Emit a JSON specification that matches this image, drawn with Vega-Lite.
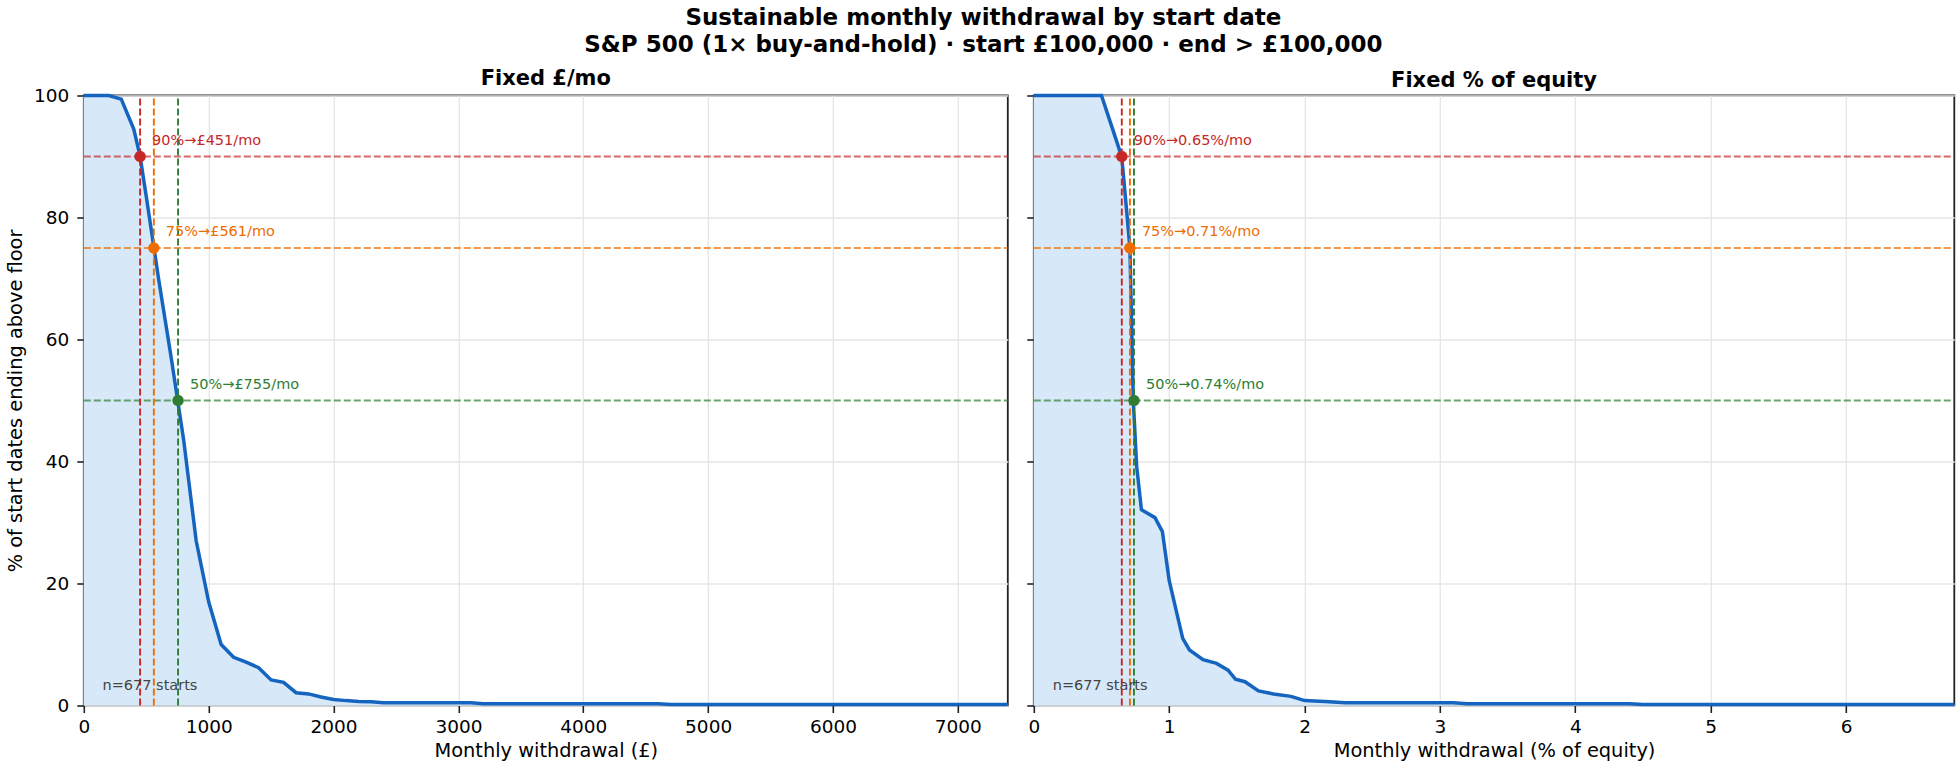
{
  "$schema": "https://vega.github.io/schema/vega-lite/v6.json",
  "padding": {"left": 3.8, "top": 6.5, "right": 5, "bottom": 5},
  "background": "white",
  "title": {
    "text": "Sustainable monthly withdrawal by start date",
    "subtitle": "S&P 500 (1× buy-and-hold) · start £100,000 · end > £100,000",
    "fontSize": 23,
    "subtitleFontSize": 23,
    "subtitleFontWeight": "bold",
    "subtitleColor": "#000",
    "subtitleFont": "DejaVu Sans",
    "subtitlePadding": 4,
    "anchor": "middle",
    "offset": 9.5
  },
  "datasets": {
    "curveA": [
      {"x": 0, "y": 100}, {"x": 100, "y": 100}, {"x": 200, "y": 100}, {"x": 300, "y": 99.4},
      {"x": 400, "y": 94.5}, {"x": 450, "y": 90.1}, {"x": 500, "y": 83.5}, {"x": 600, "y": 69.8},
      {"x": 700, "y": 57.0}, {"x": 800, "y": 43.5}, {"x": 900, "y": 27.0}, {"x": 1000, "y": 17.0},
      {"x": 1100, "y": 10.0}, {"x": 1200, "y": 7.9}, {"x": 1300, "y": 7.1}, {"x": 1400, "y": 6.2},
      {"x": 1500, "y": 4.2}, {"x": 1600, "y": 3.8}, {"x": 1700, "y": 2.1}, {"x": 1800, "y": 1.9},
      {"x": 1900, "y": 1.4}, {"x": 2000, "y": 1.0}, {"x": 2100, "y": 0.8}, {"x": 2200, "y": 0.65},
      {"x": 2300, "y": 0.6}, {"x": 2400, "y": 0.45}, {"x": 3100, "y": 0.45}, {"x": 3200, "y": 0.3},
      {"x": 4600, "y": 0.3}, {"x": 4700, "y": 0.15}, {"x": 7400, "y": 0.15}
    ],
    "curveB": [
      {"x": 0, "y": 100}, {"x": 0.5, "y": 100}, {"x": 0.6, "y": 93.3}, {"x": 0.65, "y": 89.9},
      {"x": 0.685, "y": 81.3}, {"x": 0.71, "y": 75}, {"x": 0.735, "y": 50}, {"x": 0.76, "y": 39.2},
      {"x": 0.795, "y": 32.1}, {"x": 0.895, "y": 30.8}, {"x": 0.95, "y": 28.5}, {"x": 1.0, "y": 20.5},
      {"x": 1.1, "y": 11.0}, {"x": 1.15, "y": 9.1}, {"x": 1.25, "y": 7.5}, {"x": 1.35, "y": 6.9},
      {"x": 1.435, "y": 5.8}, {"x": 1.49, "y": 4.3}, {"x": 1.56, "y": 3.9}, {"x": 1.66, "y": 2.4},
      {"x": 1.77, "y": 1.9}, {"x": 1.9, "y": 1.5}, {"x": 2.0, "y": 0.8}, {"x": 2.15, "y": 0.65},
      {"x": 2.3, "y": 0.45}, {"x": 3.1, "y": 0.45}, {"x": 3.2, "y": 0.3}, {"x": 4.4, "y": 0.3},
      {"x": 4.5, "y": 0.15}, {"x": 6.8, "y": 0.15}
    ],
    "marksA": [
      {"x": 451, "y": 90, "level": "90%", "label": "90%→£451/mo"},
      {"x": 561, "y": 75, "level": "75%", "label": "75%→£561/mo"},
      {"x": 755, "y": 50, "level": "50%", "label": "50%→£755/mo"}
    ],
    "marksB": [
      {"x": 0.65, "y": 90, "level": "90%", "label": "90%→0.65%/mo"},
      {"x": 0.71, "y": 75, "level": "75%", "label": "75%→0.71%/mo"},
      {"x": 0.74, "y": 50, "level": "50%", "label": "50%→0.74%/mo"}
    ],
    "noteA": [{"x": 150, "y": 3.2, "t": "n=677 starts"}],
    "noteB": [{"x": 0.14, "y": 3.2, "t": "n=677 starts"}],
    "frame": [{"k": "frame"}]
  },
  "spacing": 9,
  "hconcat": [
    {
      "width": 924,
      "height": 610,
      "title": {"text": "Fixed £/mo"},
      "encoding": {
        "x": {"field": "x", "type": "quantitative", "scale": {"domain": [0, 7400], "nice": false, "zero": false},
              "axis": {"values": [0, 1000, 2000, 3000, 4000, 5000, 6000, 7000], "format": "d", "title": "Monthly withdrawal (£)"}},
        "y": {"field": "y", "type": "quantitative", "scale": {"domain": [0, 100], "nice": false},
              "axis": {"values": [0, 20, 40, 60, 80, 100], "format": "d", "title": "% of start dates ending above floor"}}
      },
      "layer": [
        {"data": {"name": "curveA"}, "mark": {"type": "area", "color": "#d7e9f9", "opacity": 1}},
        {"data": {"name": "curveA"}, "mark": {"type": "line", "color": "#1565c0", "strokeWidth": 3.5}},
        {"data": {"name": "marksA"}, "mark": {"type": "rule", "strokeDash": [7, 3], "strokeWidth": 1.9, "opacity": 0.7},
         "encoding": {"x": {"datum": 0}, "x2": {"datum": 7400},
                      "color": {"field": "level", "type": "nominal", "scale": {"domain": ["90%", "75%", "50%"], "range": ["#c62828", "#ef6c00", "#2e7d32"]}, "legend": null}}},
        {"data": {"name": "marksA"}, "mark": {"type": "rule", "strokeDash": [7, 3], "strokeWidth": 1.9},
         "encoding": {"y": {"datum": 0}, "y2": {"datum": 100},
                      "color": {"field": "level", "type": "nominal", "scale": {"domain": ["90%", "75%", "50%"], "range": ["#c62828", "#ef6c00", "#2e7d32"]}, "legend": null}}},
        {"data": {"name": "marksA"}, "mark": {"type": "point", "filled": true, "size": 130, "opacity": 1},
         "encoding": {"color": {"field": "level", "type": "nominal", "scale": {"domain": ["90%", "75%", "50%"], "range": ["#c62828", "#ef6c00", "#2e7d32"]}, "legend": null}}},
        {"data": {"name": "marksA"}, "mark": {"type": "text", "align": "left", "baseline": "middle", "dx": 12, "dy": -16, "fontSize": 14.5, "font": "DejaVu Sans"},
         "encoding": {"text": {"field": "label"},
                      "color": {"field": "level", "type": "nominal", "scale": {"domain": ["90%", "75%", "50%"], "range": ["#c62828", "#ef6c00", "#2e7d32"]}, "legend": null}}},
        {"data": {"name": "noteA"}, "mark": {"type": "text", "align": "left", "baseline": "middle", "fontSize": 14.5, "font": "DejaVu Sans", "color": "#444"},
         "encoding": {"text": {"field": "t"}}},
        {"data": {"name": "frame"}, "mark": {"type": "rect", "fillOpacity": 0, "stroke": "#222", "strokeWidth": 1.8},
         "encoding": {"x": {"datum": 0}, "x2": {"datum": 7400}, "y": {"datum": 0}, "y2": {"datum": 100}}}
      ]
    },
    {
      "width": 920.5,
      "height": 610,
      "title": {"text": "Fixed % of equity"},
      "encoding": {
        "x": {"field": "x", "type": "quantitative", "scale": {"domain": [0, 6.8], "nice": false, "zero": false},
              "axis": {"values": [0, 1, 2, 3, 4, 5, 6], "format": "d", "title": "Monthly withdrawal (% of equity)"}},
        "y": {"field": "y", "type": "quantitative", "scale": {"domain": [0, 100], "nice": false},
              "axis": {"values": [0, 20, 40, 60, 80, 100], "labels": false, "title": null, "minExtent": 0}}
      },
      "layer": [
        {"data": {"name": "curveB"}, "mark": {"type": "area", "color": "#d7e9f9", "opacity": 1}},
        {"data": {"name": "curveB"}, "mark": {"type": "line", "color": "#1565c0", "strokeWidth": 3.5}},
        {"data": {"name": "marksB"}, "mark": {"type": "rule", "strokeDash": [7, 3], "strokeWidth": 1.9, "opacity": 0.7},
         "encoding": {"x": {"datum": 0}, "x2": {"datum": 6.8},
                      "color": {"field": "level", "type": "nominal", "scale": {"domain": ["90%", "75%", "50%"], "range": ["#c62828", "#ef6c00", "#2e7d32"]}, "legend": null}}},
        {"data": {"name": "marksB"}, "mark": {"type": "rule", "strokeDash": [7, 3], "strokeWidth": 1.9},
         "encoding": {"y": {"datum": 0}, "y2": {"datum": 100},
                      "color": {"field": "level", "type": "nominal", "scale": {"domain": ["90%", "75%", "50%"], "range": ["#c62828", "#ef6c00", "#2e7d32"]}, "legend": null}}},
        {"data": {"name": "marksB"}, "mark": {"type": "point", "filled": true, "size": 130, "opacity": 1},
         "encoding": {"color": {"field": "level", "type": "nominal", "scale": {"domain": ["90%", "75%", "50%"], "range": ["#c62828", "#ef6c00", "#2e7d32"]}, "legend": null}}},
        {"data": {"name": "marksB"}, "mark": {"type": "text", "align": "left", "baseline": "middle", "dx": 12, "dy": -16, "fontSize": 14.5, "font": "DejaVu Sans"},
         "encoding": {"text": {"field": "label"},
                      "color": {"field": "level", "type": "nominal", "scale": {"domain": ["90%", "75%", "50%"], "range": ["#c62828", "#ef6c00", "#2e7d32"]}, "legend": null}}},
        {"data": {"name": "noteB"}, "mark": {"type": "text", "align": "left", "baseline": "middle", "fontSize": 14.5, "font": "DejaVu Sans", "color": "#444"},
         "encoding": {"text": {"field": "t"}}},
        {"data": {"name": "frame"}, "mark": {"type": "rect", "fillOpacity": 0, "stroke": "#222", "strokeWidth": 1.8},
         "encoding": {"x": {"datum": 0}, "x2": {"datum": 6.8}, "y": {"datum": 0}, "y2": {"datum": 100}}}
      ]
    }
  ],
  "config": {
    "font": "DejaVu Sans",
    "view": {"stroke": "#222", "strokeWidth": 1.8},
    "legend": {"disable": true},
    "axis": {
      "labelFont": "DejaVu Sans", "labelFontSize": 18.5, "labelColor": "#000", "labelFlush": false,
      "titleFont": "DejaVu Sans", "titleFontSize": 19.4, "titleFontWeight": "normal", "titleColor": "#000",
      "tickColor": "#222", "tickSize": 7, "tickWidth": 1.6, "labelPadding": 5,
      "domain": false, "grid": true, "gridColor": "#e6e6e6", "gridWidth": 1.3
    },
    "axisX": {"titlePadding": 6},
    "axisY": {"titlePadding": 8, "labelPadding": 8},
    "title": {"font": "DejaVu Sans", "fontSize": 21, "fontWeight": "bold", "color": "#000", "offset": -2}
  }
}
